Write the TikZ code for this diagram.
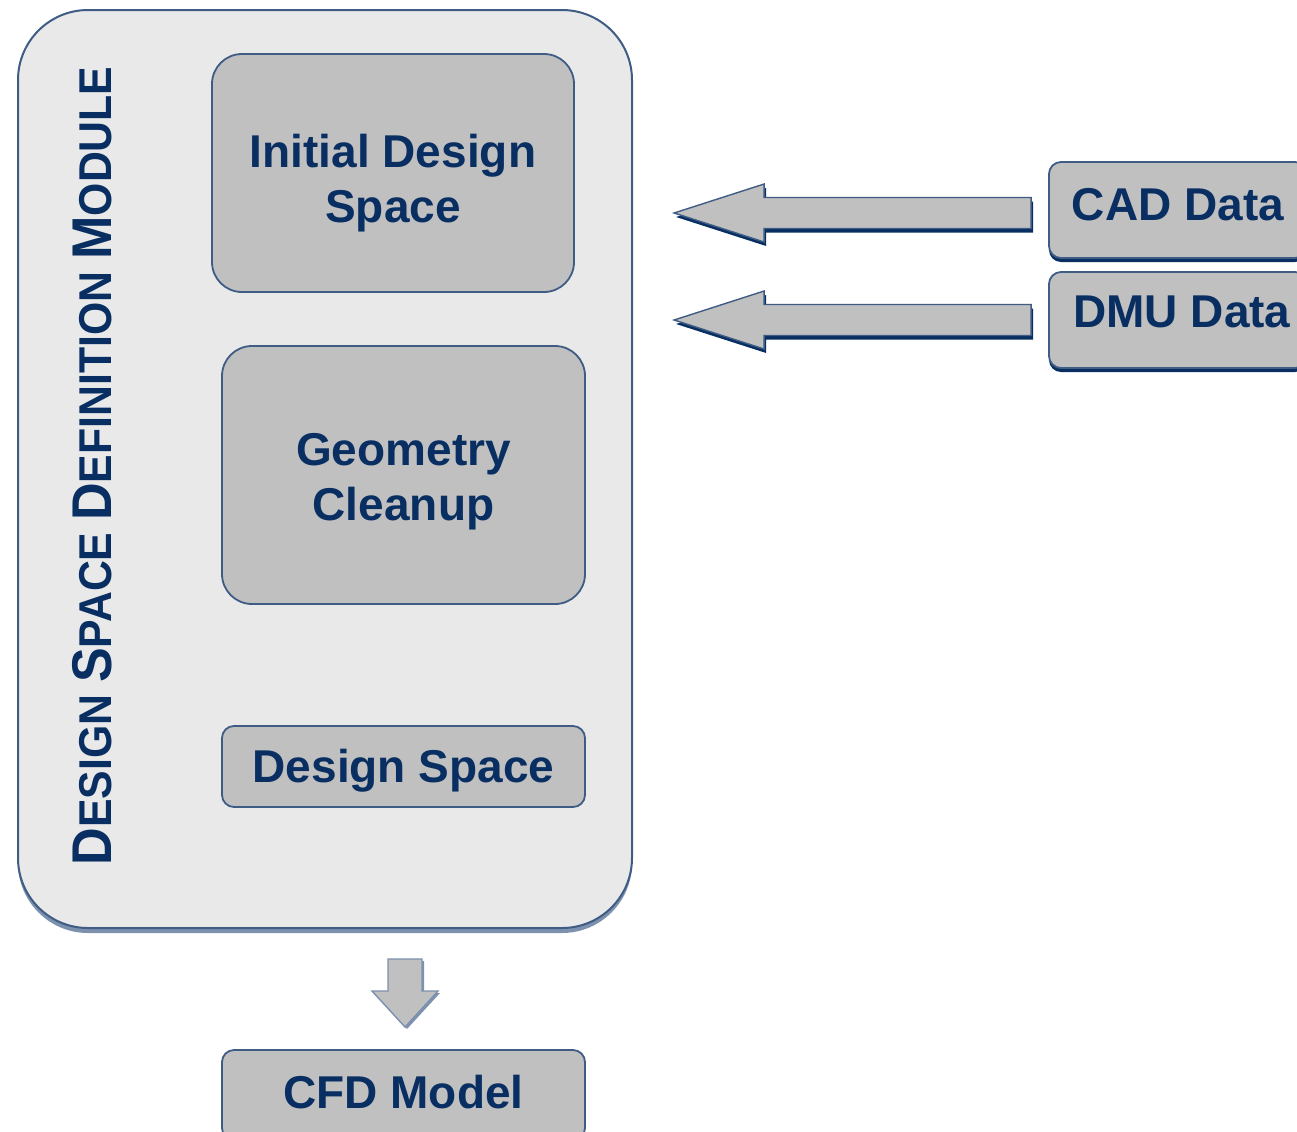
\documentclass[tikz,border=0pt]{standalone}
\usepackage{fontspec}
\setmainfont{Liberation Sans}
\usetikzlibrary{shadows,calc}
\definecolor{navy}{RGB}{8,46,98}
\definecolor{edgeblue}{RGB}{62,92,132}
\definecolor{boxgrey}{RGB}{192,192,192}
\definecolor{panel}{RGB}{233,233,233}
\definecolor{shadeblue}{RGB}{125,145,175}

\begin{document}
\begin{tikzpicture}[x=0.5pt,y=-0.5pt,
  module/.style={draw=edgeblue, line width=1pt, fill=panel, rounded corners=35pt,
    minimum width=307pt, minimum height=459pt,
    drop shadow={shadow xshift=0pt, shadow yshift=-2.5pt, fill=shadeblue, opacity=1}},
  stepbox/.style={draw=edgeblue, line width=0.9pt, fill=boxgrey, text=navy,
    font=\fontsize{23}{27.5}\selectfont\bfseries, align=center, inner sep=0pt},
  sourcebox/.style={stepbox, rounded corners=6pt, minimum width=129pt, minimum height=48pt,
    drop shadow={shadow xshift=0pt, shadow yshift=-2pt, fill=navy, opacity=1}},
  flowarrow/.style={draw=edgeblue, line width=0.7pt, fill=boxgrey, line join=miter},
  arrowshade/.style={fill=navy},
]
\useasboundingbox (0,0) rectangle (1297,1131);

% module frame and its title
\node[module] (module) at (325,469) {};
\node[rotate=90, text=navy, font=\bfseries, inner sep=0pt] (title) at (92,466)
  {\scalebox{0.93}[1]{\fontsize{28}{28}\selectfont D\fontsize{23}{23}\selectfont ESIGN
   \fontsize{28}{28}\selectfont S\fontsize{23}{23}\selectfont PACE
   \fontsize{28}{28}\selectfont D\fontsize{23}{23}\selectfont EFINITION
   \fontsize{28}{28}\selectfont M\fontsize{23}{23}\selectfont ODULE}};

% steps inside the module
\node[stepbox, rounded corners=15pt, minimum width=181pt, minimum height=119pt,
  text height=54pt, text depth=5pt]
  (initial) at (393,173) {Initial Design\\Space};
\node[stepbox, rounded corners=15pt, minimum width=181.5pt, minimum height=129pt,
  text height=50pt, text depth=5pt]
  (cleanup) at (403.5,475) {Geometry\\Cleanup};
\node[stepbox, rounded corners=6pt, minimum width=181.5pt, minimum height=40.5pt,
  text height=21pt, text depth=5pt]
  (dspace) at (403.5,766.5) {Design Space};

% output
\node[stepbox, rounded corners=6pt, minimum width=181.5pt, minimum height=45pt, text depth=3pt]
  (cfd) at (403.5,1095) {CFD Model};

% data sources
\node[sourcebox, text depth=6pt] (cad) at (1178,210) {CAD Data};
\node[sourcebox, text depth=8pt] (dmu) at (1178,320) {\hspace{4pt}DMU Data};

% block arrows from the sources into the module
\coordinate (cadtip) at ($(cad.west)+(-374,3)$);
\coordinate (dmutip) at ($(dmu.west)+(-374,0)$);
\foreach \tip in {cadtip,dmutip}{
  \fill[arrowshade] ($(\tip)+(2,4)$) -- ++(90,-29) -- ++(0,13.5) -- ++(267,0) -- ++(0,31)
    -- ++(-267,0) -- ++(0,13.5) -- cycle;
  \draw[flowarrow] (\tip) -- ++(90,-29) -- ++(0,13.5) -- ++(267,0) -- ++(0,31)
    -- ++(-267,0) -- ++(0,13.5) -- cycle;
}

% block arrow from the module down to the model
\coordinate (downtop) at ($(cfd.north |- module.south)+(1.5,30)$);
\fill[shadeblue] ($(downtop)+(2,2)$) ++(-17,0) -- ++(34,0) -- ++(0,32) -- ++(16,0)
  -- ++(-33,36) -- ++(-33,-36) -- ++(16,0) -- cycle;
\draw[flowarrow, draw=shadeblue] (downtop) ++(-17,0) -- ++(34,0) -- ++(0,32) -- ++(16,0)
  -- ++(-33,36) -- ++(-33,-36) -- ++(16,0) -- cycle;
\end{tikzpicture}
\end{document}
